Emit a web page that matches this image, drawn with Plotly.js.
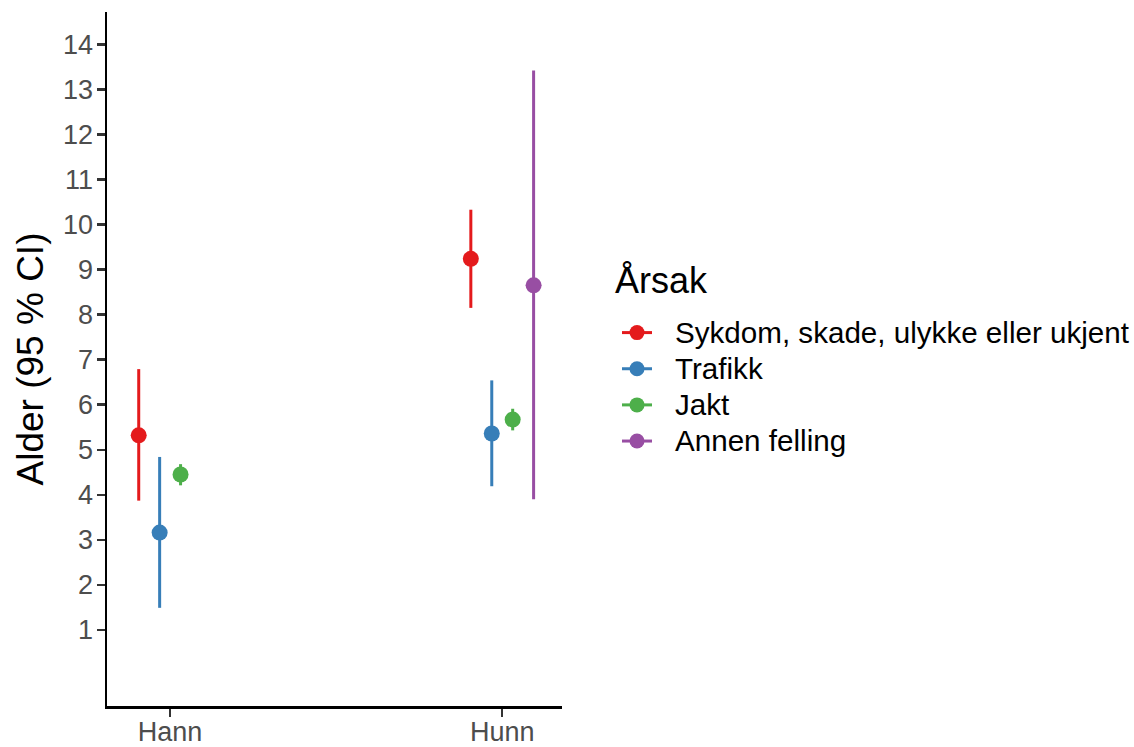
<!DOCTYPE html>
<html>
<head>
<meta charset="utf-8">
<script src="https://cdn.plot.ly/plotly-3.0.1.min.js"></script>
<style>
html,body{margin:0;padding:0;background:#fff;}
#chart{width:1134px;height:747px;}
.legendtext{font-size:29.6px !important;}
#chart .legendtext{transform:translateX(18px);}
#chart .scrollbox{clip-path:none !important;}
</style>
</head>
<body>
<div id="chart"></div>
<script>
const categories = ['Hann', 'Hunn'];
const series = ['Sykdom, skade, ulykke eller ukjent', 'Trafikk', 'Jakt', 'Annen felling'];
const colors = ['#E41A1C', '#377EB8', '#4DAF4A', '#984EA3'];
const estimate = [[5.32, 9.24], [3.16, 5.36], [4.45, 5.67], [null, 8.65]];
const lower = [[3.87, 8.15], [1.49, 4.19], [4.21, 5.43], [null, 3.90]];
const upper = [[6.79, 10.33], [4.84, 6.54], [4.68, 5.91], [null, 13.42]];
const yTicks = [1,2,3,4,5,6,7,8,9,10,11,12,13,14];
const legendTitle = 'Årsak';
const yTitle = 'Alder (95 % CI)';

const dodge = 0.063;
const font = 'Liberation Sans, Arial, sans-serif';
const traces = [];
series.forEach((name, s) => {
  const xs = categories.map((c, i) => (i + 1) + (s - (series.length - 1) / 2) * dodge);
  traces.push({
    type: 'scatter', mode: 'markers', name: name, showlegend: false,
    x: xs, y: estimate[s],
    marker: {color: colors[s], size: 16},
    error_y: {
      type: 'data', symmetric: false,
      array: estimate[s].map((v, i) => v == null ? null : upper[s][i] - v),
      arrayminus: estimate[s].map((v, i) => v == null ? null : v - lower[s][i]),
      color: colors[s], thickness: 3, width: 0
    },
    hoverinfo: 'x+y'
  });
});
series.forEach((name, s) => {
  traces.push({
    type: 'scatter', mode: 'lines+markers', name: name, showlegend: true,
    x: [null], y: [null],
    marker: {color: colors[s], size: 15},
    line: {color: colors[s], width: 3}
  });
});

const layout = {
  width: 1134, height: 747,
  margin: {l: 107, r: 572, t: 12, b: 41},
  paper_bgcolor: '#fff', plot_bgcolor: '#fff',
  font: {family: font, color: '#000'},
  showlegend: true,
  xaxis: {
    range: [0.81, 2.18], tickvals: [1, 2], ticktext: categories,
    showgrid: false, zeroline: false, showline: true, linecolor: '#000', linewidth: 2.5,
    ticks: 'outside', ticklen: 8, tickwidth: 2.5, tickcolor: '#333',
    ticklabelstandoff: -8,
    tickfont: {size: 27, color: '#4D4D4D', family: font}
  },
  yaxis: {
    range: [-0.69, 14.72], tickvals: yTicks,
    showgrid: false, zeroline: false, showline: true, linecolor: '#000', linewidth: 2.5,
    ticks: 'outside', ticklen: 8, tickwidth: 2.5, tickcolor: '#333',
    ticklabelstandoff: -2,
    tickfont: {size: 27, color: '#4D4D4D', family: font},
    title: {text: yTitle, font: {size: 37, color: '#000', family: font}, standoff: 8}
  },
  legend: {
    x: (617 - 107) / 455, xanchor: 'left', y: 0.5713, yanchor: 'top',
    itemwidth: 30,
    font: {size: 25.5, color: '#000', family: font},
    bgcolor: 'rgba(0,0,0,0)', itemclick: false, itemdoubleclick: false
  },
  annotations: [{
    xref: 'paper', yref: 'paper', x: (613 - 107) / 455, y: 1 - (280 - 12) / 694,
    xanchor: 'left', yanchor: 'middle', showarrow: false,
    text: legendTitle, font: {size: 36, color: '#000', family: font}
  }]
};

Plotly.newPlot('chart', traces, layout, {displayModeBar: false, staticPlot: true});
</script>
</body>
</html>
